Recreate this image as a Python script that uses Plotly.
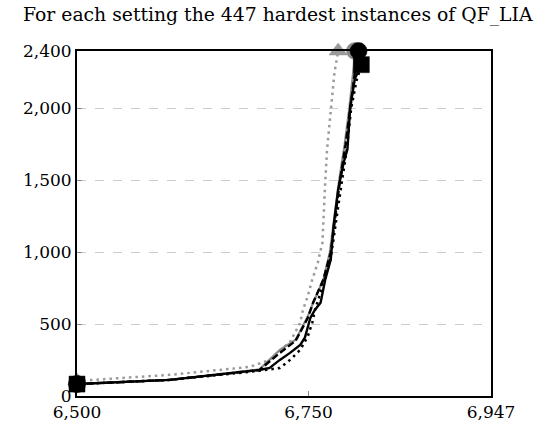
import plotly.graph_objects as go

# ---- data (x: instances solved, y: time) ----
s1_x = [6500, 6600, 6697, 6708, 6719, 6730, 6741, 6746, 6752, 6757, 6763, 6768, 6774, 6777, 6782, 6788, 6792, 6795, 6800, 6807]
s1_y = [83, 112, 181, 195, 251, 300, 356, 405, 544, 600, 649, 809, 949, 1179, 1437, 1626, 1717, 2007, 2207, 2305]

s2_x = [6500, 6600, 6697, 6719, 6736, 6749, 6755, 6766, 6774, 6779, 6784, 6790, 6795, 6800, 6804]
s2_y = [83, 112, 181, 300, 384, 540, 650, 810, 1000, 1250, 1500, 1750, 2000, 2250, 2400]

s3_x = [6500, 6600, 6697, 6719, 6730, 6741, 6749, 6754, 6757, 6766, 6774, 6779, 6785, 6791, 6796, 6802, 6807]
s3_y = [83, 112, 175, 195, 251, 321, 412, 509, 600, 780, 960, 1200, 1450, 1700, 2000, 2200, 2300]

s4_x = [6500, 6600, 6697, 6719, 6736, 6749, 6755, 6766, 6773, 6778, 6783, 6789, 6794, 6799, 6800]
s4_y = [83, 112, 185, 321, 391, 551, 649, 809, 1000, 1250, 1500, 1750, 2000, 2300, 2400]

s5_x = [6500, 6600, 6686, 6708, 6730, 6741, 6744, 6749, 6754, 6760, 6765, 6766, 6768, 6770, 6774, 6778, 6782]
s5_y = [105, 147, 202, 250, 377, 509, 600, 691, 809, 928, 1068, 1249, 1486, 1717, 2007, 2250, 2400]

x_ticks = [6500, 6750, 6947]
x_tick_labels = ["6,500", "6,750", "6,947"]
y_ticks = [0, 500, 1000, 1500, 2000, 2400]
y_tick_labels = ["0", "500", "1,000", "1,500", "2,000", "2,400"]

title = "For each setting the 447 hardest instances of QF_LIA"

FONT = "DejaVu Serif"


def end_sizes(n, s):
    return [s] + [0] * (n - 2) + [s]


series = [
    (s5_x, s5_y, "#9a9a9a", "2.5px,4px", 2.5, "triangle-up", 16, "setting 5"),
    (s4_x, s4_y, "#8a8a8a", "solid", 2.2, "circle", 17, "setting 4"),
    (s3_x, s3_y, "#000000", "2.5px,4px", 2.5, "square", 0, "setting 3"),
    (s2_x, s2_y, "#000000", "7px,3px", 2.4, "circle", 17, "setting 2"),
    (s1_x, s1_y, "#000000", "solid", 2.4, "square", 16, "setting 1"),
]

fig = go.Figure()
for xs, ys, col, dash, w, sym, ms, name in series:
    fig.add_trace(go.Scatter(
        x=xs, y=ys, name=name, mode="lines+markers",
        line=dict(color=col, width=w, dash=dash),
        marker=dict(symbol=sym, size=end_sizes(len(xs), ms), color=col,
                    opacity=1, line=dict(width=0.5, color=col)),
        cliponaxis=False, showlegend=False,
    ))

fig.update_layout(
    width=557, height=427,
    margin=dict(l=77, r=66, t=51, b=31, autoexpand=False),
    paper_bgcolor="white", plot_bgcolor="white",
    font=dict(family=FONT, size=17, color="black"),
    title=dict(text=title, x=0.485, xref="paper", xanchor="center",
               y=0.967, yref="container", yanchor="middle",
               font=dict(family=FONT, size=18.8, color="black")),
)
fig.update_xaxes(
    range=[6500, 6947], tickvals=x_ticks, ticktext=x_tick_labels,
    showgrid=False, zeroline=False, automargin=False,
    showline=True, linecolor="black", linewidth=2, mirror=True,
    ticks="inside", ticklen=5, tickcolor="#888", tickwidth=1,
)
fig.update_yaxes(
    range=[0, 2400], tickvals=y_ticks, ticktext=y_tick_labels,
    showgrid=True, gridcolor="#cccccc", griddash="dash", gridwidth=1,
    zeroline=False, automargin=False,
    showline=True, linecolor="black", linewidth=2, mirror=True,
    ticks="inside", ticklen=5, tickcolor="#888", tickwidth=1,
)

fig.write_html(
    "out.html",
    config={"displayModeBar": False},
    post_script="document.body.style.margin='0';document.body.style.overflow='hidden';",
)
